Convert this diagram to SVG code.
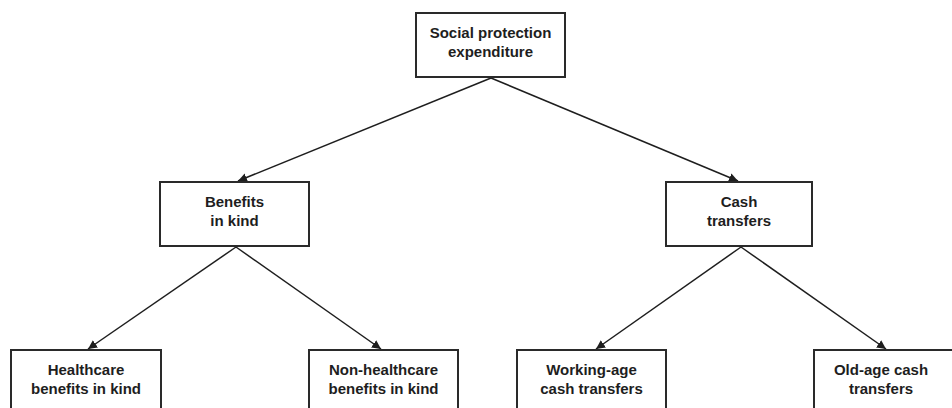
<svg xmlns="http://www.w3.org/2000/svg" width="952" height="408" viewBox="0 0 952 408">
<style>
.box{fill:#fff;stroke:#2a2a2a;stroke-width:2}
.t{font-family:"Liberation Sans",Arial,sans-serif;font-weight:bold;font-size:15px;fill:#1e1e1e;text-anchor:middle}
.c{stroke:#1e1e1e;stroke-width:1.5;fill:none;marker-end:url(#ah)}
</style>
<defs>
<marker id="ah" viewBox="0 0 10 10" refX="10" refY="5" markerWidth="9" markerHeight="9" markerUnits="userSpaceOnUse" orient="auto">
<path d="M0,0 L10,5 L0,10 z" fill="#1e1e1e"/>
</marker>
</defs>
<rect width="952" height="408" fill="#fff"/>
<g id="connectors">
<line class="c" x1="491" y1="78" x2="238" y2="181"/>
<line class="c" x1="491" y1="78" x2="738" y2="181"/>
<line class="c" x1="236" y1="247" x2="88" y2="349"/>
<line class="c" x1="236" y1="247" x2="381" y2="349"/>
<line class="c" x1="741" y1="247" x2="596" y2="349"/>
<line class="c" x1="741" y1="247" x2="886" y2="349"/>
</g>
<g id="n-root">
<rect class="box" x="416" y="13" width="149" height="64"/>
<text class="t" x="490.5" y="38">Social protection</text>
<text class="t" x="490.5" y="57">expenditure</text>
</g>
<g id="n-kind">
<rect class="box" x="160" y="182" width="149" height="64"/>
<text class="t" x="234.5" y="207">Benefits</text>
<text class="t" x="234.5" y="226">in kind</text>
</g>
<g id="n-cash">
<rect class="box" x="666" y="182" width="146" height="64"/>
<text class="t" x="739" y="207">Cash</text>
<text class="t" x="739" y="226">transfers</text>
</g>
<g id="n-health">
<rect class="box" x="11" y="350" width="150" height="64"/>
<text class="t" x="86" y="375">Healthcare</text>
<text class="t" x="86" y="394">benefits in kind</text>
</g>
<g id="n-nonhealth">
<rect class="box" x="309" y="350" width="149" height="64"/>
<text class="t" x="383.5" y="375">Non-healthcare</text>
<text class="t" x="383.5" y="394">benefits in kind</text>
</g>
<g id="n-working">
<rect class="box" x="517" y="350" width="149" height="64"/>
<text class="t" x="591.5" y="375">Working-age</text>
<text class="t" x="591.5" y="394">cash transfers</text>
</g>
<g id="n-oldage">
<rect class="box" x="814" y="350" width="150" height="64"/>
<text class="t" x="881" y="375">Old-age cash</text>
<text class="t" x="881" y="394">transfers</text>
</g>
</svg>
